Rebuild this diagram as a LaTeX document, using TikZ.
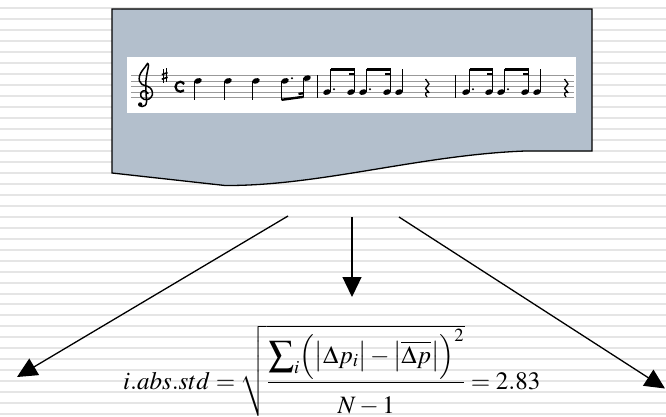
\documentclass[tikz,border=0pt]{standalone}
\usepackage{amsmath}
\usepackage{graphicx}
\usepackage{mathptmx}
\usetikzlibrary{arrows.meta, positioning, calc}

\definecolor{docblue}{RGB}{179,191,204}

\begin{document}
\begin{tikzpicture}[x=1pt, y=-1pt,
        staff/.style={draw=gray!80, line width=0.6pt},
        stem/.style={draw=black, line width=0.8pt},
        beam/.style={draw=black, line width=2.4pt},
        conn/.style={draw=black, line width=1.3pt, -{Triangle[length=20pt, width=19pt]}},
        formula/.style={font=\fontsize{25}{30}\selectfont, inner sep=0pt}]
        \useasboundingbox (0,0) rectangle (666,416);
        % striped background
        \fill[white] (0,0) rectangle (666,416);
        \foreach \k in {0,...,37}
            \draw[gray!20, line width=2pt] (0,8.3+10.97*\k) -- (666,8.3+10.97*\k);
        % document shape with the score
        \draw[fill=docblue, line width=1.3pt] (112,9) -- (592,9) -- (592,151) -- (525,151)
            .. controls (420,155) and (320,186) .. (225,185.5) -- (112,173) -- cycle;
        \fill[white] (127,57) rectangle (576,113);
        \foreach \l in {0,...,4}
            \draw[staff] (131,75.3+5.6*\l) -- (574,75.3+5.6*\l);
        % clef, key, time
        \draw[line width=1.5pt, line cap=round] plot[smooth, tension=0.6] coordinates {
            (148,93.5) (145,90.8) (141.5,92) (140.8,96) (144,99.3) (149,99) (152.3,95)
            (151.5,89.5) (147.5,86.3) (142,84.5) (139.5,81) (139.5,76) (142,71) (145.5,66.5)
            (147.5,63.5) (148.5,65.5) (147.5,71) (146,80) (146,92) (146.5,102) (145,105.5)
            (142,106.5) (139.5,105)};
        \fill (140.2,104.5) circle (2.2pt);
        \draw[line width=0.6pt] (163.2,69) -- (163.2,83) (166.2,68) -- (166.2,82);
        \draw[line width=1.6pt] (161.8,74.6) -- (167.6,72.6) (161.8,79.2) -- (167.6,77.2);
        \draw[line width=2.2pt] (184,83.2) arc[start angle=45, end angle=315, radius=5pt];
        \fill (183.4,83.6) circle (1.3pt);
        % notes
        \foreach \x/\y in {198/80.9, 228/80.9, 256/80.9, 285/80.9, 307/78.1}
            \fill[rotate around={20:(\x,\y)}] (\x,\y) ellipse (3.9pt and 2.7pt);
        \foreach \x/\y/\e in {198/80.9/100, 228/80.9/100, 256/80.9/100, 285/80.9/99.8, 307/78.1/96.8}
            \draw[stem] (\x-3.5,\y) -- (\x-3.5,\e);
        \draw[beam] (281.5,99.8) -- (303.5,96.8);
        \draw[beam] (298.5,93.9) -- (303.5,93.2);
        \foreach \x in {327, 351, 363, 387, 399, 466, 489, 501, 525, 537} {
            \fill[rotate around={20:(\x,92.1)}] (\x,92.1) ellipse (3.9pt and 2.7pt);
            \draw[stem] (\x+3.5,92.1) -- (\x+3.5,68.5);
        }
        \foreach \a/\b in {327/351, 363/387, 466/489, 501/525} {
            \draw[beam] (\a+3.5,69.6) -- (\b+3.9,69.6);
            \draw[beam] (\b-2,73.8) -- (\b+3.9,73.8);
        }
        \foreach \x/\y in {292/78.3, 334/89.3, 370/89.3, 473/89.3, 508/89.3}
            \fill (\x,\y) circle (1.1pt);
        \foreach \x in {317.5, 455}
            \draw[line width=0.7pt] (\x,75.3) -- (\x,97.7);
        \foreach \x in {427, 566}
            \draw[line width=1.3pt, line join=round] (\x-1.5,79) -- (\x+2,84) -- (\x-1.5,88.5)
                -- (\x+2,92.5) .. controls (\x-1,91) and (\x-3,94) .. (\x,97);
        % formula
        \node[formula, anchor=base west] (stdform) at (123,389)
            {$i.abs.std = \sqrt{\dfrac{\mathop{\vcenter{\hbox{\scalebox{1.45}{$\sum$}}}}\nolimits_i
            \Bigl(\bigl|\Delta p_i\bigr| - \bigl|\overline{\Delta p}\bigr|\Bigr)^{2}}{\rule{0pt}{1.1em}N-1}} = 2.83$};
        % arrows
        \coordinate (lsrc) at (288,216);
        \coordinate (ltip) at (17,377);
        \coordinate (msrc) at (352,217);
        \coordinate (mtip) at (352,297);
        \coordinate (rsrc) at (399,217);
        \coordinate (rtip) at (665,388.5);
        \draw[conn] (lsrc) -- (ltip);
        \draw[conn] (msrc) -- (mtip);
        \draw[conn] (rsrc) -- (rtip);
    \end{tikzpicture}
\end{document}
